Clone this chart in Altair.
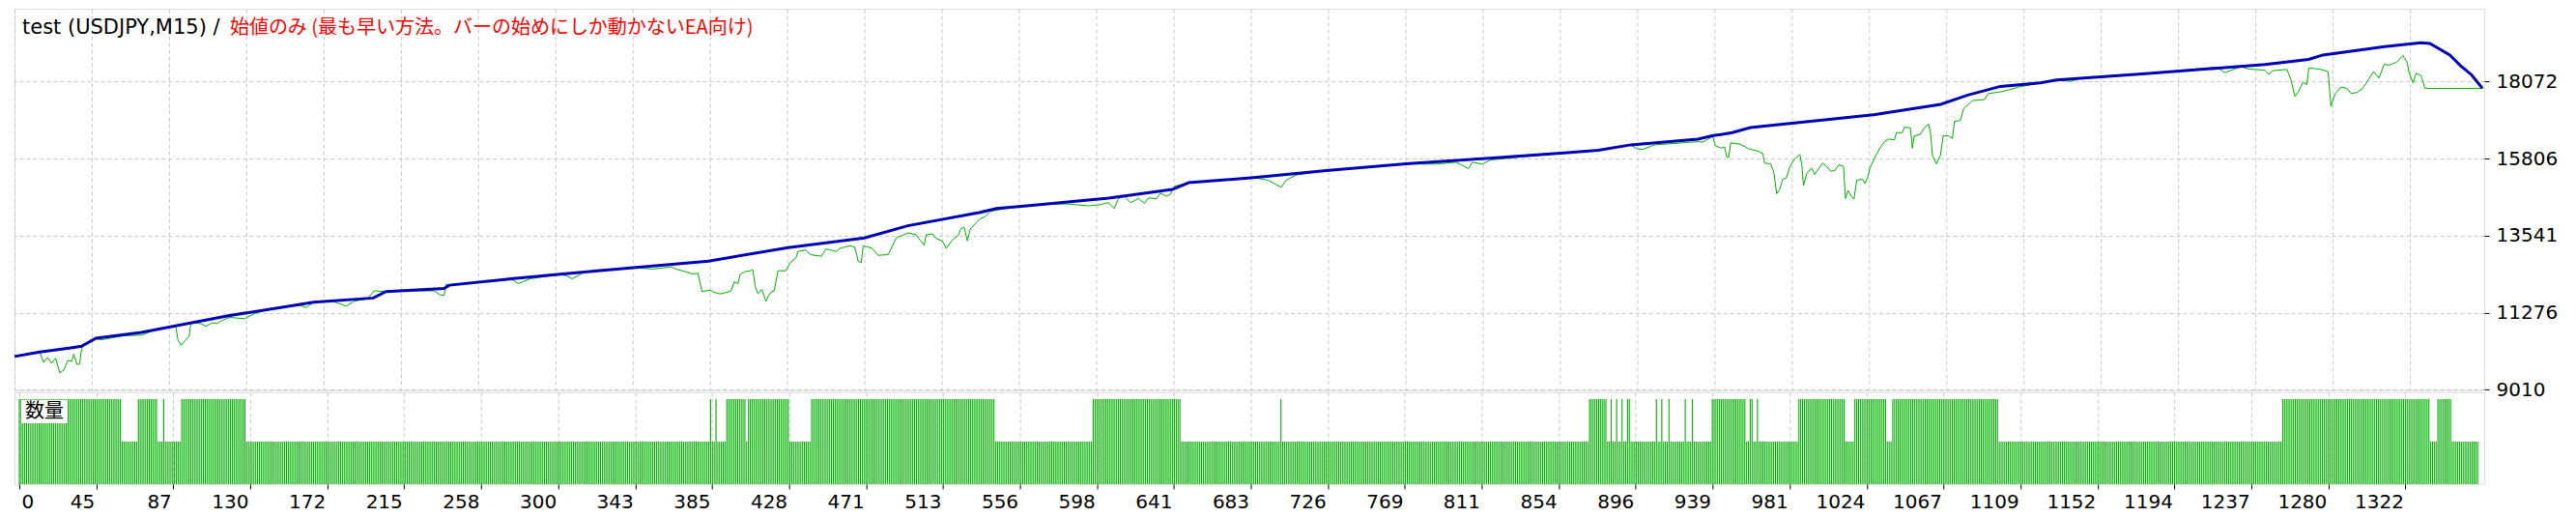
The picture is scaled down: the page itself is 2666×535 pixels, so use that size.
import altair as alt
import pandas as pd

TITLE_BLACK = "test (USDJPY,M15) /"
TITLE_RED = "始値のみ (最も早い方法。バーの始めにしか動かないEA向け)"
VOL_LABEL = "数量"

x_tick_labels = [0, 45, 87, 130, 172, 215, 258, 300, 343, 385, 428, 471, 513, 556, 598, 641,
                 683, 726, 769, 811, 854, 896, 939, 981, 1024, 1067, 1109, 1152, 1194, 1237, 1280, 1322]
y_tick_values = [9010, 11276, 13541, 15806, 18072]

N_TRADES = 1363
TICK_STEP = 42.645  # trades per grid interval

# balance (blue)
bal_t = [0, 14, 31, 37, 45, 70, 86, 97, 118, 141, 165, 198, 205, 237, 240, 274, 307, 343, 383, 427,
         469, 493, 533, 542, 560, 604, 639, 648, 684, 724, 768, 810, 857, 874, 892, 929, 937, 948, 958,
         1026, 1063, 1078, 1096, 1118, 1127, 1176, 1242, 1266, 1274, 1308, 1328, 1333, 1344, 1350, 1356, 1362]
bal_v = [9992, 10124, 10246, 10294, 10530, 10700, 10860, 10974, 11191, 11380, 11587, 11710, 11899, 11993,
         12087, 12276, 12437, 12607, 12795, 13192, 13475, 13834, 14230, 14344, 14429, 14646, 14901, 15099,
         15250, 15458, 15656, 15807, 15986, 16052, 16213, 16383, 16477, 16571, 16722, 17100, 17402, 17676,
         17931, 18035, 18119, 18308, 18572, 18723, 18855, 19101, 19214, 19195, 18855, 18535, 18271, 17874]

# equity (green)
eq_t = [0, 14, 16, 18.3, 20.5, 22.7, 25, 27.2, 29.4, 31.6, 32.7, 34.5, 36, 36.7, 37.8, 45, 48, 60, 70.3, 75.8,
        86, 89, 90.2, 91.9, 94.6, 96.3, 97.2, 99, 103, 105.6, 109, 112.2, 114.5, 118.9, 127, 132, 141, 150,
        158, 160.9, 165, 175, 183, 187.4, 195, 198.4, 205, 218.3, 231.6, 235, 237.1, 238.2, 240.4, 262,
        274.7, 278, 284.6, 300, 304.5, 307.8, 313.3, 320, 343, 351.8, 362.8, 365, 371.7, 373.9, 377.2,
        379.4, 383.8, 386, 389.3, 391.5, 395.5, 397.1, 399.3, 400.4, 403, 405.9, 407.5, 408.8, 410.3,
        412.5, 414.7, 415.9, 417.6, 419.2, 421.4, 425.8, 428, 431.3, 432.4, 436.8, 439.1, 445.2, 447.9,
        453.4, 455.6, 461.2, 463.8, 465.6, 467.3, 468.4, 473.3, 476.6, 482.2, 486.6, 493.2, 497.6, 499.8,
        502, 503.1, 506.5, 508.7, 512, 514.2, 517.5, 520.8, 522.4, 524.1, 525.9, 527.5, 530.8, 533, 535.6,
        538.5, 550.7, 570, 581.6, 592.7, 599.3, 603.7, 607, 609.2, 612.5, 615.9, 620.3, 623.6, 625.8,
        630.2, 632.4, 635.7, 637.9, 640.2, 648, 684, 691.9, 695.2, 699.1, 701.8, 707.3, 724, 768, 784.7,
        795.7, 802.4, 804.6, 810.1, 814.5, 857, 874, 892, 895.2, 898.5, 905.1, 929.4, 931.6, 937.2, 938.7,
        941.6, 943.8, 944.9, 946, 947.1, 952.6, 957, 962.6, 964.8, 965.9, 969.2, 971, 972.5, 974.1, 975.8,
        978, 979.8, 982.5, 985.3, 986.4, 987.3, 989.1, 991.8, 993.5, 997.9, 1000.1, 1002.4, 1004.6,
        1006.8, 1009.4, 1010.5, 1011.9, 1013.4, 1015.2, 1016.7, 1020, 1021.1, 1022.7, 1024, 1026.4,
        1029.3, 1032, 1034.2, 1037.5, 1038.6, 1041.9, 1043, 1046.3, 1047.4, 1048.5, 1051.8, 1054, 1056.3,
        1057.4, 1058.5, 1060.7, 1062.9, 1064.4, 1067.3, 1069.5, 1070.6, 1073.9, 1075.7, 1080.6, 1087.2,
        1089.4, 1097.1, 1106, 1113.7, 1118, 1127, 1135, 1140, 1153.5, 1176, 1215.4, 1219.8, 1228.6, 1233,
        1241.9, 1244.1, 1246.3, 1254.1, 1256.3, 1258.5, 1260.7, 1262.9, 1265.1, 1266.2, 1272.8, 1276.8,
        1278.4, 1280.6, 1283.9, 1287.2, 1289.4, 1292.7, 1296, 1299.4, 1302, 1304.9, 1307.8, 1310.4,
        1314.8, 1318.1, 1320.4, 1321.5, 1323.7, 1325.4, 1328.1, 1330.3, 1362.3]
eq_v = [9992, 10110, 9820, 9960, 9790, 9940, 9510, 9590, 9870, 9850, 10060, 9760, 9770, 10100, 10330, 10510,
        10480, 10600, 10620, 10740, 10860, 10880, 10480, 10320, 10480, 10580, 10910, 11000, 10950, 10880,
        10980, 10970, 11050, 11140, 11100, 11240, 11400, 11470, 11480, 11430, 11590, 11630, 11470, 11615,
        11690, 11920, 11900, 11920, 11920, 11800, 11785, 12117, 12090, 12210, 12247, 12134, 12276, 12400,
        12370, 12276, 12436, 12530, 12606, 12560, 12625, 12560, 12465, 12417, 12436, 11898, 11945, 11879,
        11832, 11851, 11917, 12181, 12134, 12398, 12484, 12512, 12531, 12040, 11832, 11964, 11606, 11757,
        11889, 11917, 12512, 12512, 12748, 12889, 13078, 13125, 12984, 12937, 13154, 13078, 13173, 13248,
        13201, 12795, 12748, 13248, 13173, 12965, 12984, 13475, 13626, 13569, 13409, 13267, 13569, 13597,
        13456, 13390, 13173, 13409, 13550, 13758, 13786, 13390, 13739, 13928, 14041, 14098, 14258, 14380,
        14470, 14475, 14419, 14457, 14513, 14343, 14636, 14702, 14513, 14636, 14494, 14654, 14626, 14796,
        14702, 14758, 14995, 15099, 15250, 15174, 15079, 14966, 15174, 15325, 15458, 15656, 15646, 15703,
        15514, 15703, 15646, 15769, 15986, 16052, 16213, 16099, 16080, 16212, 16307, 16290, 16458, 16194,
        16118, 16146, 15863, 15835, 16269, 16231, 16099, 16023, 15957, 15674, 15655, 15391, 14777, 14891,
        15202, 15249, 15580, 15797, 15929, 15627, 15014, 15363, 15533, 15344, 15674, 15580, 15438, 15457,
        15627, 15580, 14636, 14872, 14730, 14617, 15174, 15202, 15079, 15249, 15533, 15816, 16099, 16307,
        16382, 16363, 16571, 16571, 16731, 16713, 16118, 16477, 16524, 16713, 16826, 16571, 15891, 15655,
        15910, 16477, 16477, 16401, 16901, 16930, 17279, 17515, 17543, 17723, 17779, 17911, 17987, 18035,
        18119, 18080, 18160, 18230, 18308, 18500, 18336, 18510, 18440, 18412, 18289, 18393, 18431, 18129,
        17638, 17798, 18053, 17987, 18478, 18431, 18365, 17345, 17704, 17911, 17874, 17723, 17751, 17874,
        18157, 18365, 18176, 18582, 18554, 18648, 18837, 18648, 18336, 18034, 18317, 18251, 17874, 17874]

# lot size per trade, run-length encoded (run start trade index, lots)
vol_run_start = [0, 57, 66, 77, 80, 81, 90, 126, 383, 384, 386, 387, 392, 403, 404, 427, 439, 541, 595,
                 644, 699, 700, 870, 880, 882, 883, 885, 886, 888, 889, 891, 893, 907, 908, 910, 911, 914,
                 915, 923, 924, 927, 928, 938, 957, 959, 961, 963, 964, 986, 1012, 1017, 1035, 1038, 1097,
                 1254, 1336, 1340, 1348]
vol_run_lots = [0.2, 0.1, 0.2, 0.1, 0.2, 0.1, 0.2, 0.1, 0.2, 0.1, 0.2, 0.1, 0.2, 0.1, 0.2, 0.1, 0.2, 0.1,
                0.2, 0.1, 0.2, 0.1, 0.2, 0.1, 0.2, 0.1, 0.2, 0.1, 0.2, 0.1, 0.2, 0.1, 0.2, 0.1, 0.2, 0.1,
                0.2, 0.1, 0.2, 0.1, 0.2, 0.1, 0.2, 0.1, 0.2, 0.1, 0.2, 0.1, 0.2, 0.1, 0.2, 0.1, 0.2, 0.1,
                0.2, 0.1, 0.2, 0.1]

vol_idx = list(range(N_TRADES))
vol_lots = []
for i in vol_idx:
    k = max(j for j, s in enumerate(vol_run_start) if s <= i)
    vol_lots.append(vol_run_lots[k])

bal_df = pd.DataFrame({"t": bal_t, "v": bal_v})
eq_df = pd.DataFrame({"t": eq_t, "v": eq_v})
vol_df = pd.DataFrame({"t": vol_idx, "lots": vol_lots})

W = 2557
H_MAIN = 395
H_VOL = 95
XDOM = [0, 1363]
BLUE = "#0000B4"
GREEN = "#00B000"
tick_vals = [round(k * TICK_STEP, 3) for k in range(len(x_tick_labels))]
label_expr = "[" + ",".join("'%d'" % v for v in x_tick_labels) + "][round(datum.value / %s)]" % TICK_STEP

grid_kw = dict(grid=True, gridColor="#C8C8C8", gridDash=[4, 3], gridWidth=1)

x_main = alt.X("t:Q", scale=alt.Scale(domain=XDOM, nice=False, zero=False),
               axis=alt.Axis(values=tick_vals, labels=False, ticks=False, domain=False, title=None, **grid_kw))
y_main = alt.Y("v:Q", scale=alt.Scale(domain=[8995, 20213], nice=False, zero=False),
               axis=alt.Axis(orient="right", values=y_tick_values, format="d", title=None, domain=False,
                             tickSize=5, tickColor="black", labelFontSize=20, labelPadding=7,
                             labelFont="DejaVu Sans", labelColor="black", **grid_kw))

eq_line = alt.Chart(eq_df).mark_line(color=GREEN, strokeWidth=1).encode(x=x_main, y=y_main)
bal_line = alt.Chart(bal_df).mark_line(color=BLUE, strokeWidth=3).encode(x=x_main, y=y_main)
t_black = alt.Chart(pd.DataFrame({"s": [TITLE_BLACK]})).mark_text(
    align="left", baseline="middle", font="DejaVu Sans", fontSize=21, color="black"
).encode(x=alt.value(8), y=alt.value(20), text="s:N")
t_red = alt.Chart(pd.DataFrame({"s": [TITLE_RED]})).mark_text(
    align="left", baseline="middle", font="Noto Sans CJK JP", fontSize=20, color="#FF0000"
).encode(x=alt.value(223), y=alt.value(20), text="s:N")

main = alt.layer(eq_line, bal_line, t_black, t_red).properties(width=W, height=H_MAIN)

x_vol = alt.X("t:Q", scale=alt.Scale(domain=XDOM, nice=False, zero=False),
              axis=alt.Axis(values=tick_vals, labelExpr=label_expr,
                            labelAlign={"expr": "datum.value < 1 ? 'left' : 'right'"},
                            labelOffset={"expr": "datum.value < 1 ? 2 : -2"},
                            labelFlush=False, tickSize=5, tickColor="black", domain=False,
                            labelFontSize=20, labelPadding=4, labelFont="DejaVu Sans",
                            labelColor="black", title=None, **grid_kw))
bars = alt.Chart(vol_df).mark_bar(width=1.1, color=GREEN).encode(
    x=x_vol, y=alt.Y("lots:Q", scale=alt.Scale(domain=[0, 0.216], nice=False), axis=None))
box = alt.Chart(pd.DataFrame({"a": [0]})).mark_rect(color="white").encode(
    x=alt.value(7), x2=alt.value(55), y=alt.value(8), y2=alt.value(32))
vol_txt = alt.Chart(pd.DataFrame({"s": [VOL_LABEL]})).mark_text(
    align="center", baseline="middle", font="Noto Sans CJK JP", fontSize=20, color="black"
).encode(x=alt.value(31), y=alt.value(20), text="s:N")

vol = alt.layer(bars, box, vol_txt).properties(width=W, height=H_VOL)

chart = alt.vconcat(main, vol, spacing=2, bounds="flush").properties(
    padding={"left": 0, "top": 0, "right": 10, "bottom": 2}
).configure_view(stroke="black", strokeWidth=1).configure(background="white")

chart.save("out.html", embed_options={"renderer": "svg", "actions": False})
